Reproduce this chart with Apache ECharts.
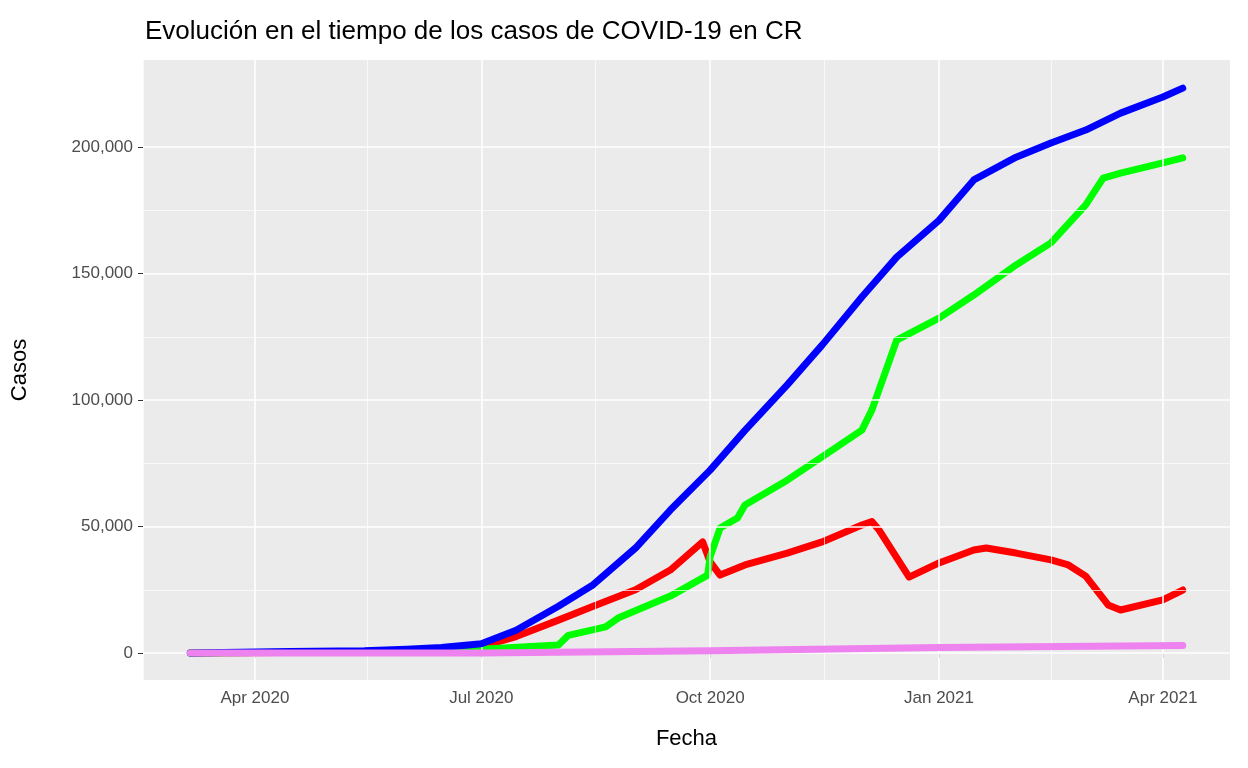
<!DOCTYPE html>
<html><head><meta charset="utf-8">
<script src="https://cdn.jsdelivr.net/npm/echarts@6/dist/echarts.min.js"></script>
<style>html,body{margin:0;padding:0;background:#fff}#c{width:1248px;height:768px}</style>
</head><body><div id="c"></div>
<script>
const totalDates=['2020-03-06','2020-04-15','2020-05-15','2020-06-01','2020-06-15','2020-07-01','2020-07-15','2020-08-01','2020-08-15','2020-09-01','2020-09-15','2020-10-01','2020-10-15','2020-11-01','2020-11-15','2020-12-01','2020-12-15','2021-01-01','2021-01-15','2021-02-01','2021-02-15','2021-03-01','2021-03-15','2021-04-01','2021-04-09'];
const totalVals=[0,600,900,1500,2200,3700,9000,18500,27000,41500,56500,72300,88000,106000,121700,140700,156500,171000,187000,196000,201600,206700,213400,219800,223300];
const recDates=['2020-03-06','2020-05-15','2020-07-01','2020-08-01','2020-08-05','2020-08-20','2020-08-25','2020-09-15','2020-09-30','2020-10-01','2020-10-05','2020-10-12','2020-10-15','2020-11-01','2020-11-15','2020-12-01','2020-12-05','2020-12-15','2021-01-01','2021-01-15','2021-02-01','2021-02-15','2021-03-01','2021-03-08','2021-03-15','2021-04-01','2021-04-09'];
const recVals=[0,500,1500,3200,7000,10300,13800,22500,30800,38000,49400,53400,58500,68300,77500,88100,96000,123700,132400,141500,153400,162100,177100,187700,189700,193700,195700];
const actDates=['2020-03-06','2020-05-15','2020-06-15','2020-07-01','2020-07-15','2020-08-01','2020-08-15','2020-09-01','2020-09-15','2020-09-28','2020-10-01','2020-10-05','2020-10-15','2020-11-01','2020-11-15','2020-12-01','2020-12-05','2020-12-08','2020-12-20','2021-01-01','2021-01-15','2021-01-20','2021-02-01','2021-02-15','2021-02-22','2021-03-01','2021-03-10','2021-03-15','2021-04-01','2021-04-09'];
const actVals=[0,400,1200,2500,6500,13000,18500,25000,32800,43900,36000,30800,34800,39500,43900,50600,52000,48500,30000,35600,40700,41500,39500,36800,34800,30400,19000,17000,21000,24900];
const deathDates=['2020-03-06','2020-07-01','2020-10-01','2021-01-01','2021-04-09'];
const deathVals=[0,20,900,2200,2950];
const xTickLabels=['2020-04-01','2020-07-01','2020-10-01','2021-01-01','2021-04-01'];
const xMinorGrid=['2020-02-16','2020-05-16','2020-08-16','2020-11-16','2021-02-15'];
const yTicks=[0,50000,100000,150000,200000];
const yMinor=[25000,75000,125000,175000];

const t=d=>new Date(d+'T00:00:00Z').getTime();
const zip=(a,b)=>a.map((d,i)=>[t(d),b[i]]);
const monthNames=['Jan','Feb','Mar','Apr','May','Jun','Jul','Aug','Sep','Oct','Nov','Dec'];
const ch=echarts.init(document.getElementById('c'));
const gridLines=[];
xTickLabels.forEach(d=>gridLines.push({xAxis:t(d),lineStyle:{width:1.6,color:'#fff',type:'solid'}}));
xMinorGrid.forEach(d=>gridLines.push({xAxis:t(d),lineStyle:{width:0.7,color:'#fff',type:'solid'}}));
yTicks.forEach(v=>gridLines.push({yAxis:v,lineStyle:{width:1.6,color:'#fff',type:'solid'}}));
yMinor.forEach(v=>gridLines.push({yAxis:v,lineStyle:{width:0.7,color:'#fff',type:'solid'}}));
const line=(name,data,color,z)=>({name,type:'line',data,showSymbol:false,lineStyle:{color,width:7,cap:'round',join:'round'},itemStyle:{color},z,animation:false});
const grid=line('Fallecidos',zip(deathDates,deathVals),'#ee82ee',6);
const gl={name:'grid',type:'line',data:[[t('2020-03-06'),0]],showSymbol:false,lineStyle:{width:0},z:1,
  markLine:{silent:true,symbol:'none',label:{show:false},animation:false,data:gridLines}};
ch.setOption({
  animation:false,
  textStyle:{fontFamily:'Liberation Sans, Arial, sans-serif'},
  title:{text:'Evolución en el tiempo de los casos de COVID-19 en CR',left:140,top:14,textStyle:{fontSize:26,fontWeight:'normal',color:'#000'}},
  grid:{left:143,right:18,top:60,bottom:88,show:true,backgroundColor:'#ebebeb',borderWidth:0},
  xAxis:{type:'value',min:t('2020-02-16'),max:t('2021-04-28'),name:'Fecha',nameLocation:'middle',nameGap:48,nameTextStyle:{fontSize:22,color:'#000'},
    axisLine:{show:false},splitLine:{show:false},
    axisTick:{show:true,customValues:xTickLabels.map(t),length:5,lineStyle:{color:'#333'}},
    axisLabel:{customValues:xTickLabels.map(t),fontSize:17,color:'#4d4d4d',margin:10,formatter:v=>{const d=new Date(v);return monthNames[d.getUTCMonth()]+' '+d.getUTCFullYear();}}},
  yAxis:{type:'value',min:-10670,max:234400,name:'Casos',nameLocation:'middle',nameGap:112,nameTextStyle:{fontSize:22,color:'#000'},
    axisLine:{show:false},splitLine:{show:false},
    axisTick:{show:true,customValues:yTicks,length:5,lineStyle:{color:'#333'}},
    axisLabel:{customValues:yTicks,fontSize:17,color:'#4d4d4d',margin:10}},
  series:[
    gl,
    line('Activos',zip(actDates,actVals),'#ff0000',3),
    line('Recuperados',zip(recDates,recVals),'#00ff00',4),
    line('Total',zip(totalDates,totalVals),'#0000ff',5),
    grid
  ]
});
</script></body></html>
